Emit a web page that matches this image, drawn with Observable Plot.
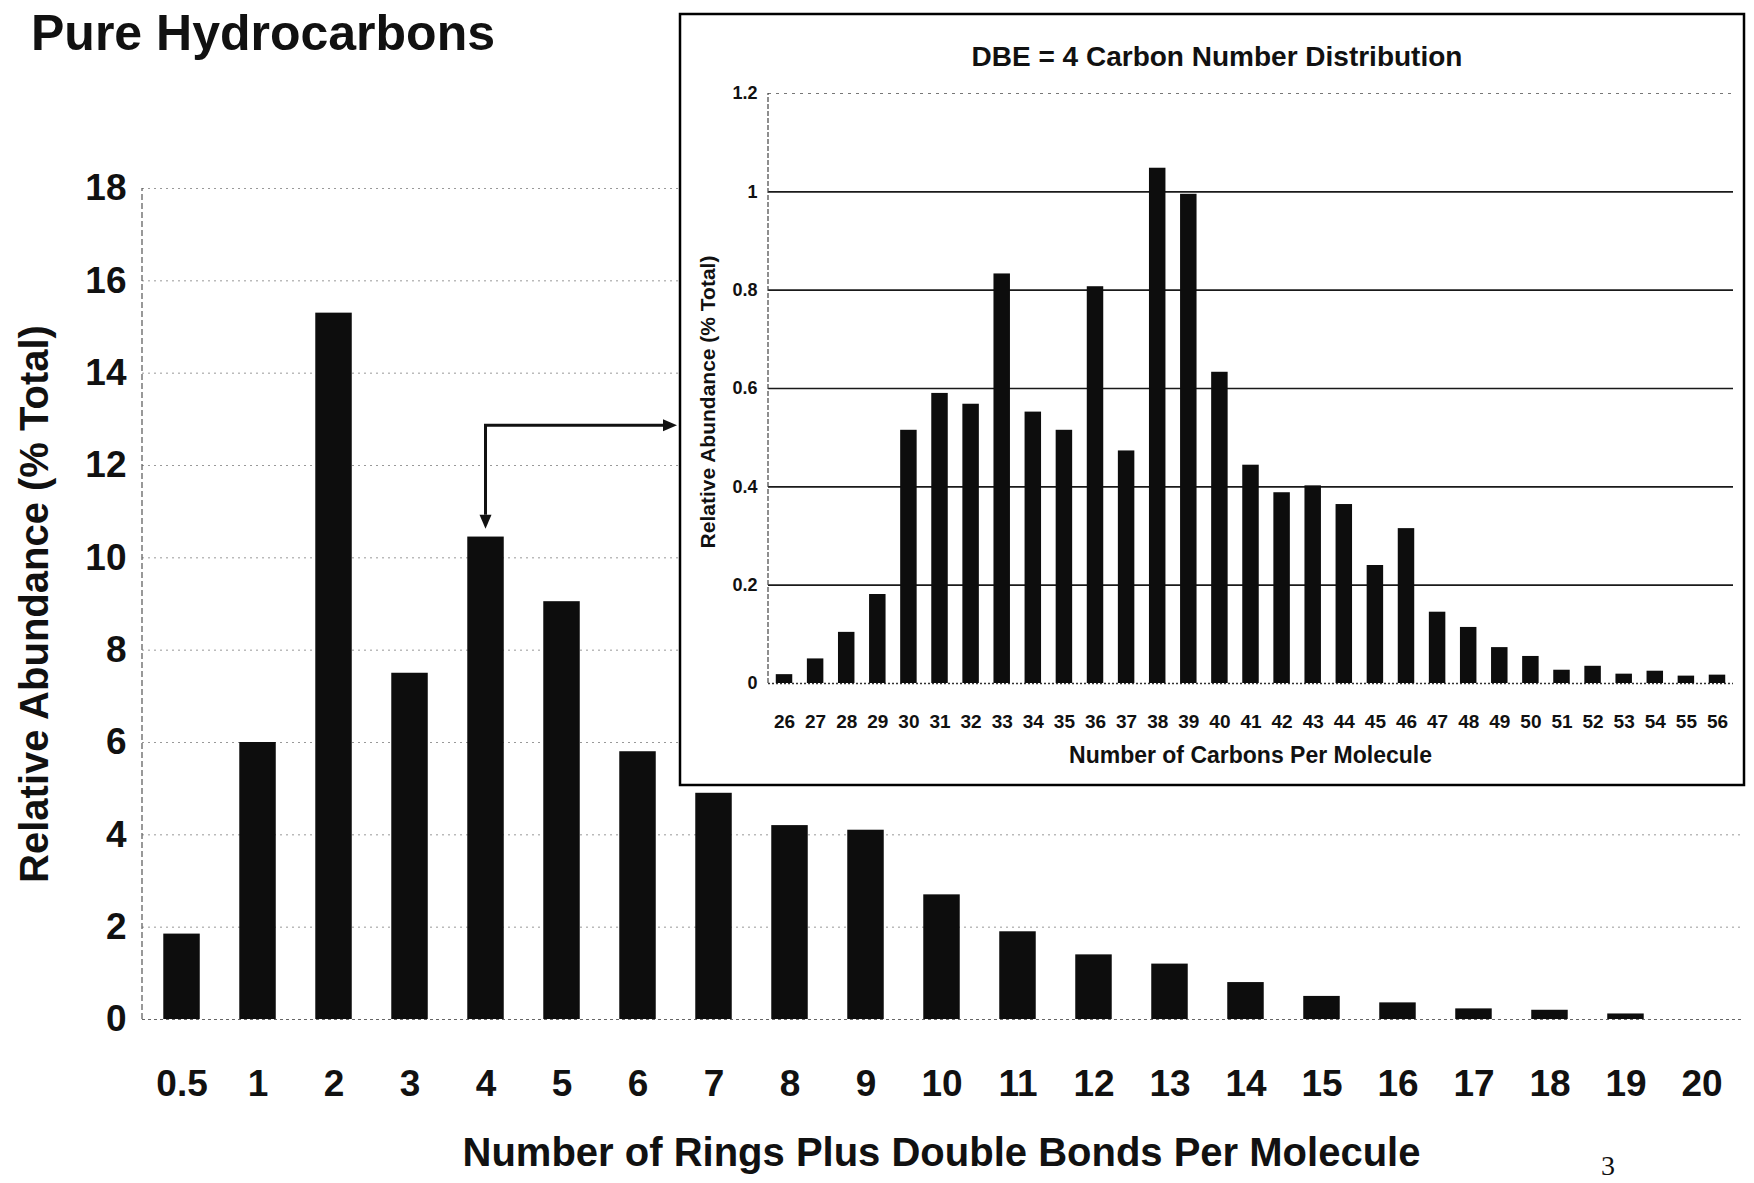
<!DOCTYPE html>
<html>
<head>
<meta charset="utf-8">
<script src="https://cdn.jsdelivr.net/npm/d3@7"></script>
<script src="https://cdn.jsdelivr.net/npm/@observablehq/plot@0.6"></script>
<style>
  body { margin: 0; background: #fff; }
  #page { position: relative; width: 1754px; height: 1183px; overflow: hidden; background: #fff;
          font-family: "Liberation Sans", Arial, sans-serif; }
  #main { position: absolute; left: 0; top: 0; }
  #inset { position: absolute; left: 679px; top: 13px; background: #fff; }
  #overlay { position: absolute; left: 0; top: 0; pointer-events: none; }
</style>
</head>
<body>
<div id="page">
  <div id="main"></div>
  <div id="inset"></div>
  <svg id="overlay" width="1754" height="1183"></svg>
</div>
<script>
// ---- Main chart data: number of rings plus double bonds (DBE) ----
const dbeLabels = ["0.5","1","2","3","4","5","6","7","8","9","10","11","12","13","14","15","16","17","18","19","20"];
const dbeAbundance = [1.85, 6.0, 15.3, 7.5, 10.45, 9.05, 5.8, 4.9, 4.2, 4.1, 2.7, 1.9, 1.4, 1.2, 0.8, 0.5, 0.36, 0.23, 0.2, 0.12, 0];
const dbeTicks = [0, 2, 4, 6, 8, 10, 12, 14, 16, 18];

// ---- Inset data: DBE = 4 carbon number distribution ----
const carbonLabels = ["26","27","28","29","30","31","32","33","34","35","36","37","38","39","40","41","42","43","44","45","46","47","48","49","50","51","52","53","54","55","56"];
const carbonAbundance = [0.018, 0.05, 0.104, 0.181, 0.515, 0.59, 0.568, 0.833, 0.552, 0.515, 0.807, 0.473, 1.048, 0.995, 0.633, 0.444, 0.388, 0.402, 0.364, 0.24, 0.315, 0.145, 0.114, 0.073, 0.055, 0.027, 0.035, 0.019, 0.025, 0.015, 0.017];
const carbonTicks = [0, 0.2, 0.4, 0.6, 0.8, 1, 1.2];
const carbonSolidGrid = [0.2, 0.4, 0.6, 0.8, 1];
const carbonDottedGrid = [1.2];

// ---- Texts ----
const pageTitle = "Pure Hydrocarbons";
const mainXTitle = "Number of Rings Plus Double Bonds Per Molecule";
const mainYTitle = "Relative Abundance (% Total)";
const insetTitle = "DBE = 4 Carbon Number Distribution";
const insetXTitle = "Number of Carbons Per Molecule";
const insetYTitle = "Relative Abundance (% Total)";
const pageNumber = "3";

// Arrow annotation (from DBE 4 bar to inset), in main-chart value units
const arrowCategory = "4";
const arrowTopValue = 12.86;
const arrowTipValue = 10.62;

const FONT = '"Liberation Sans", Arial, Helvetica, sans-serif';

const mainData = dbeLabels.map((k, i) => ({dbe: k, value: dbeAbundance[i]}));
const insetData = carbonLabels.map((k, i) => ({carbon: k, value: carbonAbundance[i]}));

const main = Plot.plot({
  width: 1754, height: 1183,
  marginLeft: 142, marginRight: 13, marginTop: 188, marginBottom: 164,
  style: {fontFamily: FONT, background: "transparent", color: "#111"},
  x: {domain: dbeLabels, paddingInner: 0.52, paddingOuter: 0.28, round: false, label: null},
  y: {domain: [0, 18], label: null},
  marks: [
    Plot.gridY(dbeTicks.slice(1), {stroke: "#777", strokeOpacity: 0.75, strokeDasharray: "2,4"}),
    Plot.ruleY([0], {stroke: "#666", strokeDasharray: "3,3", strokeWidth: 1}),
    Plot.barY(mainData, {x: "dbe", y: "value", fill: "#0d0d0d"}),
    Plot.axisY({ticks: dbeTicks, tickSize: 0, tickPadding: 16, fontSize: 37, fontWeight: "bold", tickFormat: d => String(d), label: null}),
    Plot.axisX({tickSize: 0, tickPadding: 50, fontSize: 37, fontWeight: "bold", label: null})
  ]
});
document.getElementById("main").appendChild(main);

const inset = Plot.plot({
  width: 1066, height: 773,
  marginLeft: 89, marginRight: 12, marginTop: 80, marginBottom: 103,
  style: {fontFamily: FONT, background: "#fff", color: "#111"},
  x: {domain: carbonLabels, paddingInner: 0.47, paddingOuter: 0.25, round: false, label: null},
  y: {domain: [0, 1.2], label: null},
  marks: [
    Plot.gridY(carbonSolidGrid, {stroke: "#1a1a1a", strokeOpacity: 1, strokeWidth: 1.6}),
    Plot.gridY(carbonDottedGrid, {stroke: "#555", strokeOpacity: 0.8, strokeDasharray: "3,5"}),
    Plot.ruleY([0], {stroke: "#333", strokeDasharray: "2,2", strokeWidth: 1.5}),
    Plot.barY(insetData, {x: "carbon", y: "value", fill: "#0d0d0d"}),
    Plot.axisY({ticks: carbonTicks, tickSize: 0, tickPadding: 11, fontSize: 18, fontWeight: "bold", tickFormat: d => String(d), label: null}),
    Plot.axisX({tickSize: 0, tickPadding: 31, fontSize: 19, fontWeight: "bold", label: null})
  ]
});
document.getElementById("inset").appendChild(inset);

// ---- Overlay: titles, axis lines, arrow, inset border ----
const ov = d3.select("#overlay");
const xs = main.scale("x"), ys = main.scale("y");
const ix = inset.scale("x"), iy = inset.scale("y");
const insetLeft = 679, insetTop = 13, insetW = 1066, insetH = 773;

// main y axis line (dashed, faint)
ov.append("line")
  .attr("x1", xs.range[0]).attr("x2", xs.range[0])
  .attr("y1", ys.apply(0)).attr("y2", ys.apply(18))
  .attr("stroke", "#555").attr("stroke-width", 1.2).attr("stroke-dasharray", "6,3");

// inset y axis line
ov.append("line")
  .attr("x1", insetLeft + ix.range[0]).attr("x2", insetLeft + ix.range[0])
  .attr("y1", insetTop + iy.apply(0)).attr("y2", insetTop + iy.apply(1.2))
  .attr("stroke", "#444").attr("stroke-width", 1.2).attr("stroke-dasharray", "5,2");

// inset border
ov.append("rect")
  .attr("x", insetLeft + 1).attr("y", insetTop + 1)
  .attr("width", insetW - 2).attr("height", insetH - 2)
  .attr("fill", "none").attr("stroke", "#000").attr("stroke-width", 2.5);

// arrow
const axp = xs.apply(arrowCategory) + xs.bandwidth / 2;
const ayTop = ys.apply(arrowTopValue);
const ayTip = ys.apply(arrowTipValue);
const axEnd = insetLeft - 2;
const head = 14, hw = 6;
ov.append("path")
  .attr("d", `M${axp},${ayTip - head} L${axp},${ayTop} L${axEnd - head},${ayTop}`)
  .attr("fill", "none").attr("stroke", "#111").attr("stroke-width", 3);
ov.append("path")
  .attr("d", `M${axp - hw},${ayTip - head} L${axp + hw},${ayTip - head} L${axp},${ayTip} Z`)
  .attr("fill", "#111");
ov.append("path")
  .attr("d", `M${axEnd - head},${ayTop - hw} L${axEnd - head},${ayTop + hw} L${axEnd},${ayTop} Z`)
  .attr("fill", "#111");

function txt(x, y, s, opts) {
  const t = ov.append("text")
    .attr("x", x).attr("y", y).text(s)
    .attr("font-family", opts.family || FONT)
    .attr("font-size", opts.size)
    .attr("font-weight", opts.weight || "bold")
    .attr("fill", "#111")
    .attr("text-anchor", opts.anchor || "middle");
  if (opts.central !== false) t.attr("dominant-baseline", "central");
  if (opts.rotate) t.attr("transform", `rotate(-90 ${x} ${y})`);
  return t;
}

// page title
txt(31, 50, pageTitle, {size: 50, anchor: "start", central: false});
// main axis titles
txt((xs.range[0] + xs.range[1]) / 2, 1152, mainXTitle, {size: 40});
txt(34, 604, mainYTitle, {size: 40, rotate: true});
// page number
txt(1608, 1165, pageNumber, {size: 28, weight: "normal", family: '"Liberation Serif", "Times New Roman", serif'});
// inset texts
txt(1217, 56, insetTitle, {size: 28});
txt(insetLeft + (ix.range[0] + ix.range[1]) / 2, 755, insetXTitle, {size: 23});
txt(707, 402, insetYTitle, {size: 21, rotate: true});
</script>
</body>
</html>
